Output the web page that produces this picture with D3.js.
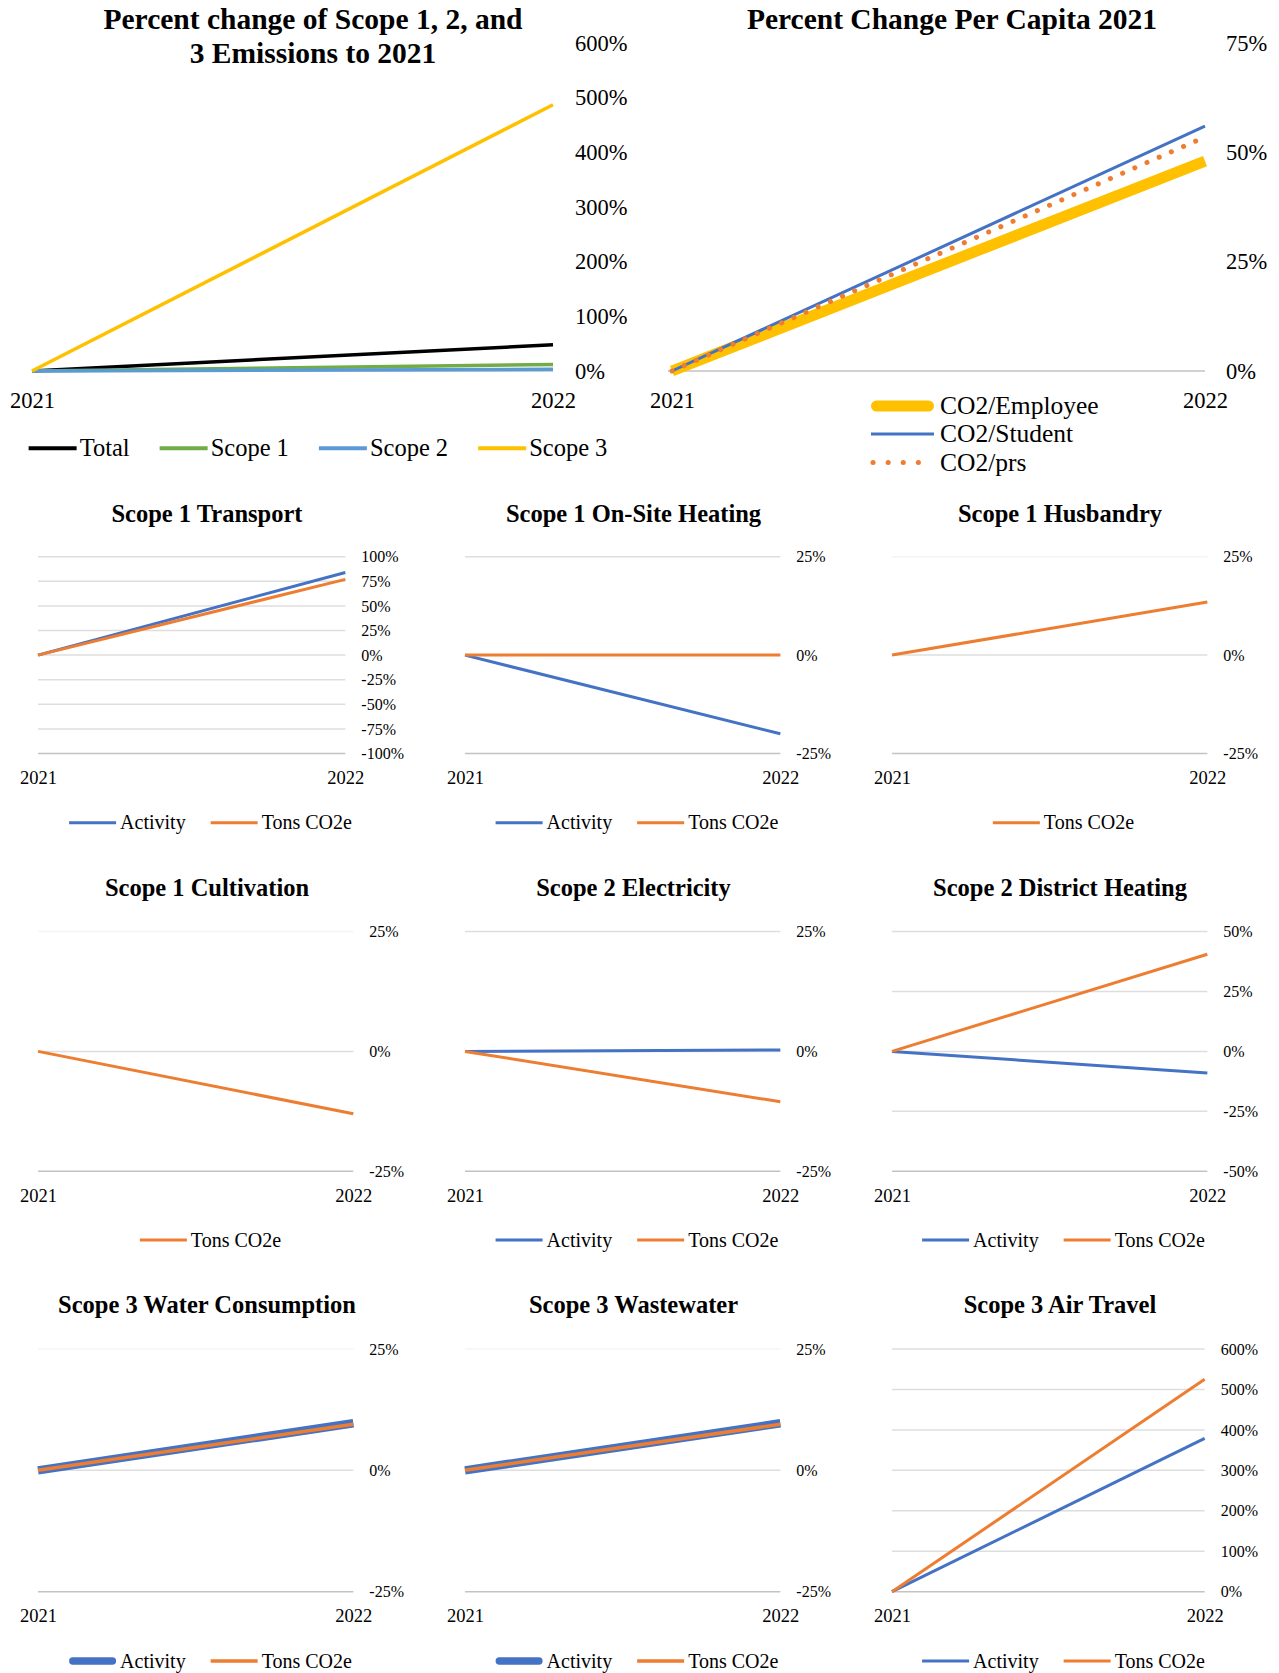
<!DOCTYPE html>
<html>
<head>
<meta charset="utf-8">
<title>Emissions change 2021–2022</title>
<script src="https://cdn.jsdelivr.net/npm/d3@7"></script>
<style>
  html, body { margin: 0; padding: 0; background: #ffffff; }
  svg { display: block; font-family: "Liberation Serif", "Times New Roman", serif; }
</style>
</head>
<body>
<svg id="chart" width="1279" height="1673"></svg>
<script>
// ---------- data ----------
const years = ["2021", "2022"];

// Percent change of scope 1, 2 and 3 emissions
const scopeNames = ["Total", "Scope 1", "Scope 2", "Scope 3"];
const totalChange = [0, 48];
const scope1Change = [0, 12];
const scope2Change = [0, 3];
const scope3Change = [0, 487];
const overviewTicks = [0, 100, 200, 300, 400, 500, 600];

// Percent change per capita
const perCapitaNames = ["CO2/Employee", "CO2/Student", "CO2/prs"];
const perEmployeeChange = [0, 48];
const perStudentChange = [0, 56];
const perPersonChange = [0, 53.5];
const perCapitaTicks = [0, 25, 50, 75];

// Emission sources (null = series not reported)
const sourceTitles = [
  "Scope 1 Transport", "Scope 1 On-Site Heating", "Scope 1 Husbandry",
  "Scope 1 Cultivation", "Scope 2 Electricity", "Scope 2 District Heating",
  "Scope 3 Water Consumption", "Scope 3 Wastewater", "Scope 3 Air Travel"
];
const sourceSeriesNames = ["Activity", "Tons CO2e"];
const activityChange = [[0, 84], [0, -20], null, null, [0, 0.3], [0, -9], [0, 9.7], [0, 9.7], [0, 379]];
const tonsChange = [[0, 77], [0, 0], [0, 13.5], [0, -13], [0, -10.5], [0, 40.5], [0, 9.5], [0, 9.5], [0, 525]];
const sourceTicks = [
  [100, 75, 50, 25, 0, -25, -50, -75, -100],
  [25, 0, -25],
  [25, 0, -25],
  [25, 0, -25],
  [25, 0, -25],
  [50, 25, 0, -25, -50],
  [25, 0, -25],
  [25, 0, -25],
  [600, 500, 400, 300, 200, 100, 0]
];

// ---------- styles ----------
const BLUE = "#4472C4", ORANGE = "#ED7D31";
const GRID = "#dedede", AXIS = "#c3c3c3", FAINT = "#f4f4f4";
const activityStroke = [3, 3, 3, 3, 3, 3, 8.5, 8.5, 3];
const tonsStroke = [3, 3, 3, 3, 3, 3, 3.5, 3.5, 3];
const faintTopGrid = [false, false, true, true, false, false, true, true, false];

const svg = d3.select("#chart");
const pct = d => d + "%";

function styleAxis(a, size) {
  a.attr("font-family", null).attr("font-size", null);
  a.select(".domain").remove();
  a.selectAll(".tick line").remove();
  a.selectAll("text").attr("font-size", size).attr("fill", "#000");
}

function linePath(x, y) {
  return d3.line().x((d, i) => x(years[i])).y(d => y(d));
}

// Horizontal legend centred on cx
function hLegend(g, items, cx, cy, o) {
  const lg = g.append("g");
  let pos = 0;
  items.forEach(it => {
    const item = lg.append("g").attr("transform", `translate(${pos},0)`);
    const w = it.swatchWidth || it.width;
    const inset = it.round ? w / 2 : 0;
    item.append("line")
      .attr("x1", inset).attr("x2", o.swatch - inset)
      .attr("stroke", it.color).attr("stroke-width", w)
      .attr("stroke-linecap", it.round ? "round" : "butt");
    const t = item.append("text")
      .attr("x", o.swatch + o.textGap).attr("dy", "0.33em")
      .attr("font-size", o.size).attr("fill", "#000").text(it.name);
    pos += o.swatch + o.textGap + t.node().getComputedTextLength() + o.itemGap;
  });
  const total = pos - o.itemGap;
  lg.attr("transform", `translate(${cx - total / 2},${cy})`);
}

// ---------- overview: percent change of scope 1, 2, and 3 ----------
{
  const g = svg.append("g");
  const x = d3.scalePoint().domain(years).range([32, 553]);
  const y = d3.scaleLinear().domain([0, 600]).range([371, 43]);
  const line = linePath(x, y);

  g.append("text").attr("x", 313).attr("y", 28.5).attr("text-anchor", "middle")
    .attr("font-size", 29.5).attr("font-weight", "bold").text("Percent change of Scope 1, 2, and");
  g.append("text").attr("x", 313).attr("y", 63).attr("text-anchor", "middle")
    .attr("font-size", 29.5).attr("font-weight", "bold").text("3 Emissions to 2021");

  g.append("line").attr("x1", x.range()[0]).attr("x2", x.range()[1])
    .attr("y1", y(0)).attr("y2", y(0)).attr("stroke", AXIS).attr("stroke-width", 1.5);

  g.append("g").attr("transform", `translate(${x.range()[1] + 22},0)`)
    .call(d3.axisRight(y).tickValues(overviewTicks).tickFormat(pct).tickSize(0).tickPadding(0))
    .call(styleAxis, 22.5);
  g.append("g").attr("transform", `translate(0,${y(0)})`)
    .call(d3.axisBottom(x).tickSize(0).tickPadding(21))
    .call(styleAxis, 22.5);

  const series = [
    { name: scopeNames[0], values: totalChange, color: "#000000", width: 3.5 },
    { name: scopeNames[1], values: scope1Change, color: "#70AD47", width: 3.5 },
    { name: scopeNames[2], values: scope2Change, color: "#5B9BD5", width: 3.5 },
    { name: scopeNames[3], values: scope3Change, color: "#FFC000", width: 3.5 }
  ];
  g.selectAll("path.series").data(series).join("path")
    .attr("class", "series")
    .attr("d", d => line(d.values))
    .attr("fill", "none").attr("stroke", d => d.color).attr("stroke-width", d => d.width);

  hLegend(g, series.map(s => ({ ...s, swatchWidth: 4 })), 318, 448.3,
    { swatch: 48, textGap: 3, itemGap: 30, size: 24.5 });
}

// ---------- per capita ----------
{
  const g = svg.append("g");
  const x = d3.scalePoint().domain(years).range([672, 1205]);
  const y = d3.scaleLinear().domain([0, 75]).range([371, 43]);
  const line = linePath(x, y);

  g.append("text").attr("x", 952).attr("y", 28.5).attr("text-anchor", "middle")
    .attr("font-size", 29.5).attr("font-weight", "bold").text("Percent Change Per Capita 2021");

  g.append("line").attr("x1", x.range()[0] - 4).attr("x2", x.range()[1])
    .attr("y1", y(0)).attr("y2", y(0)).attr("stroke", AXIS).attr("stroke-width", 1.5);

  g.append("g").attr("transform", `translate(${x.range()[1] + 21},0)`)
    .call(d3.axisRight(y).tickValues(perCapitaTicks).tickFormat(pct).tickSize(0).tickPadding(0))
    .call(styleAxis, 22.5);
  g.append("g").attr("transform", `translate(0,${y(0)})`)
    .call(d3.axisBottom(x).tickSize(0).tickPadding(21))
    .call(styleAxis, 22.5);

  const series = [
    { name: perCapitaNames[0], values: perEmployeeChange, color: "#FFC000", width: 11, dash: null, round: true },
    { name: perCapitaNames[1], values: perStudentChange, color: BLUE, width: 3, dash: null },
    { name: perCapitaNames[2], values: perPersonChange, color: ORANGE, width: 5, dash: "0.1 13.2", legendDash: "0.1 15", dotted: true }
  ];
  g.selectAll("path.series").data(series).join("path")
    .attr("class", "series")
    .attr("d", d => line(d.values))
    .attr("fill", "none").attr("stroke", d => d.color).attr("stroke-width", d => d.width)
    .attr("stroke-dasharray", d => d.dash)
    .attr("stroke-linecap", d => d.dotted ? "round" : "butt");

  // vertical legend
  const legendY = [406, 434, 462.5];
  series.forEach((s, i) => {
    const item = g.append("g").attr("transform", `translate(871,${legendY[i]})`);
    const inset = s.round ? s.width / 2 : (s.dotted ? 2 : 0);
    item.append("line").attr("x1", inset).attr("x2", 63 - inset)
      .attr("stroke", s.color).attr("stroke-width", s.width)
      .attr("stroke-dasharray", s.legendDash || null)
      .attr("stroke-linecap", (s.round || s.dotted) ? "round" : "butt");
    item.append("text").attr("x", 69).attr("dy", "0.33em")
      .attr("font-size", 25.5).attr("fill", "#000").text(s.name);
  });
}

// ---------- emission source panels ----------
const colLeft = [38, 465, 892];
const colRight = [404, 831, 1258];
const colCenter = [207, 633.5, 1060];
const rows = [
  { titleY: 521.7, top: 556.7, bottom: 753.5, legendY: 822.7 },
  { titleY: 895.7, top: 931.5, bottom: 1171.3, legendY: 1240 },
  { titleY: 1313.3, top: 1349, bottom: 1591.7, legendY: 1661 }
];

sourceTitles.forEach((title, i) => {
  const col = i % 3, row = rows[Math.floor(i / 3)];
  const g = svg.append("g");
  const ticks = sourceTicks[i];
  const y = d3.scaleLinear().domain(d3.extent(ticks)).range([row.bottom, row.top]);

  g.append("text").attr("x", colCenter[col]).attr("y", row.titleY).attr("text-anchor", "middle")
    .attr("font-size", 24.5).attr("font-weight", "bold").text(title);

  // y labels first, so the plot can end where the labels begin
  const yAxis = g.append("g")
    .call(d3.axisRight(y).tickValues(ticks).tickFormat(pct).tickSize(0).tickPadding(0))
    .call(styleAxis, 16);
  let labelW = 0;
  yAxis.selectAll("text").each(function () { labelW = Math.max(labelW, this.getComputedTextLength()); });
  const plotRight = colRight[col] - 16 - labelW;
  yAxis.attr("transform", `translate(${plotRight + 16},0)`);

  const x = d3.scalePoint().domain(years).range([colLeft[col], plotRight]);
  const line = linePath(x, y);
  const [lo, hi] = d3.extent(ticks);

  g.insert("g", ":first-child").selectAll("line").data(ticks).join("line")
    .attr("x1", colLeft[col]).attr("x2", plotRight)
    .attr("y1", d => y(d)).attr("y2", d => y(d))
    .attr("stroke", d => d === lo ? AXIS : (d === hi && faintTopGrid[i] ? FAINT : GRID))
    .attr("stroke-width", 1.5);

  g.append("g").attr("transform", `translate(0,${row.bottom})`)
    .call(d3.axisBottom(x).tickSize(0).tickPadding(17.2))
    .call(styleAxis, 18.5);

  const series = [];
  if (activityChange[i]) series.push({ name: sourceSeriesNames[0], values: activityChange[i], color: BLUE, width: activityStroke[i] });
  if (tonsChange[i]) series.push({ name: sourceSeriesNames[1], values: tonsChange[i], color: ORANGE, width: tonsStroke[i] });

  g.selectAll("path.series").data(series).join("path")
    .attr("class", "series")
    .attr("d", d => line(d.values))
    .attr("fill", "none").attr("stroke", d => d.color).attr("stroke-width", d => d.width);

  hLegend(g, series.map(s => ({
      ...s,
      swatchWidth: s.width > 5 ? 7.5 : s.width,
      round: s.width > 5
    })), colCenter[col] + 3.5, row.legendY,
    { swatch: 47, textGap: 4, itemGap: 25, size: 20 });
});
</script>
</body>
</html>
